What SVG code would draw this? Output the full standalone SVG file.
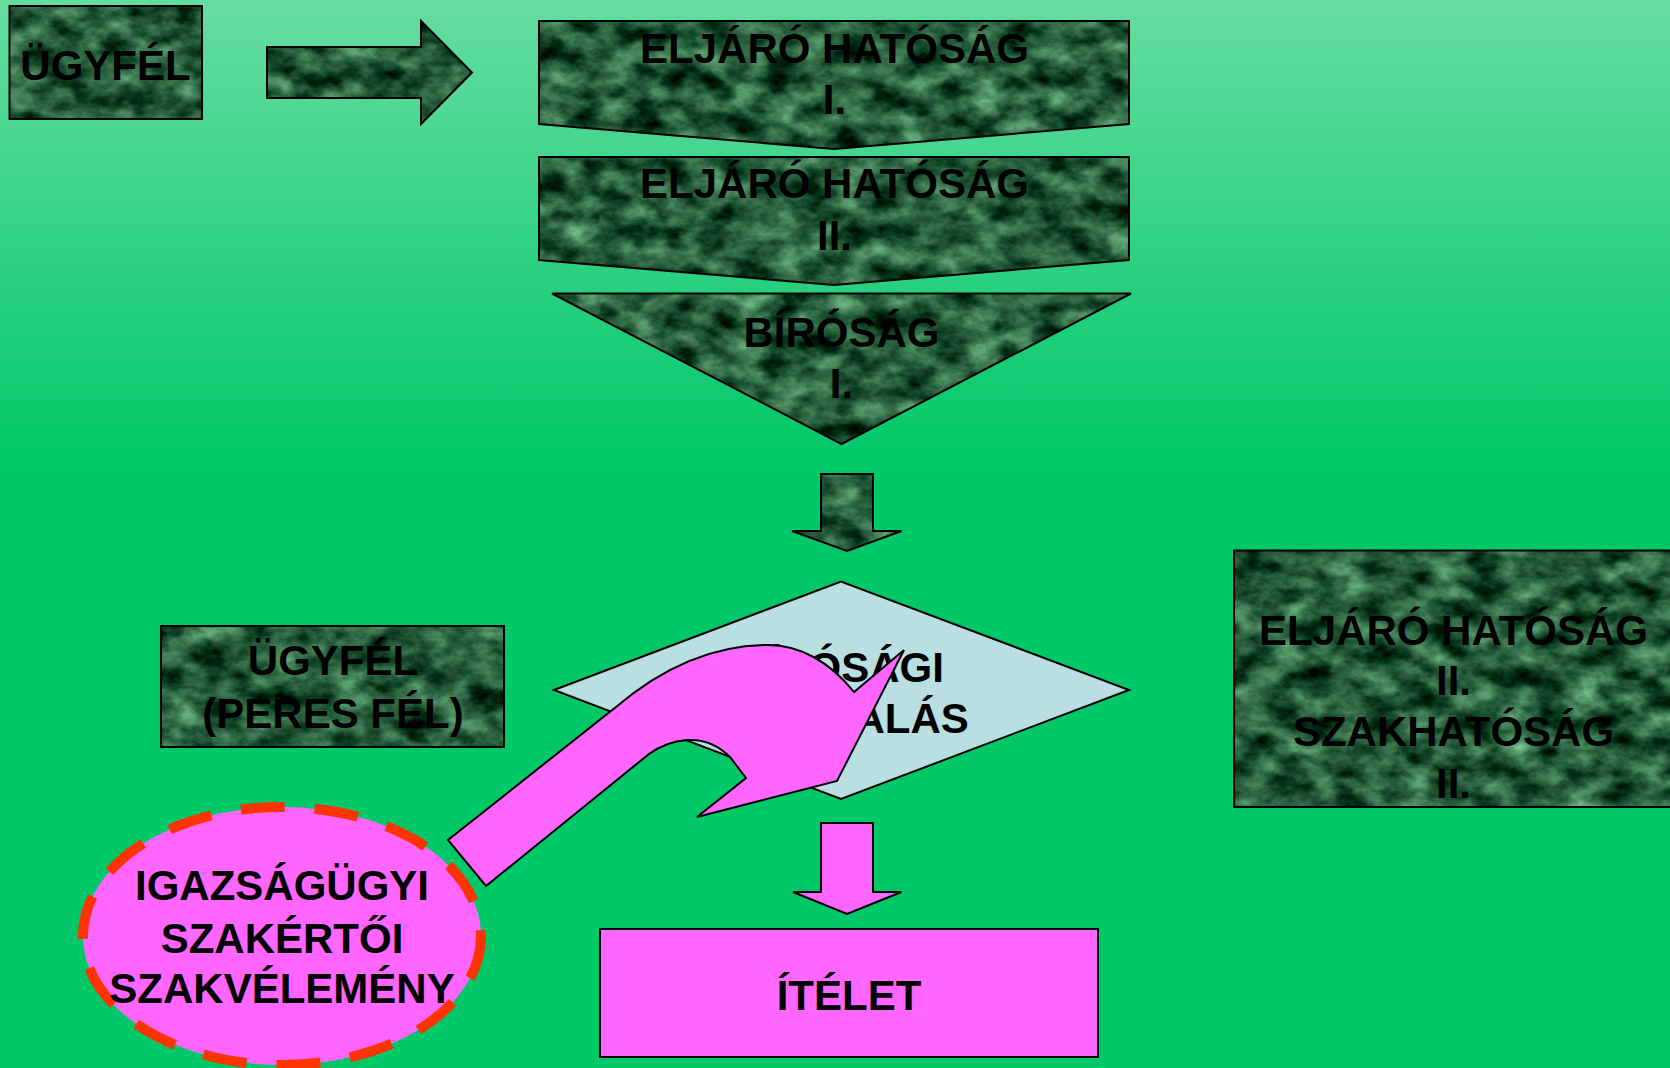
<svg xmlns="http://www.w3.org/2000/svg" width="1670" height="1068" viewBox="0 0 1670 1068">
<defs>
  <linearGradient id="bg" x1="0" y1="0" x2="0" y2="1">
    <stop offset="0" stop-color="#66dda0"/>
    <stop offset="0.44" stop-color="#00c868"/>
    <stop offset="1" stop-color="#00c868"/>
  </linearGradient>
  <filter id="marbleF" x="0" y="0" width="1" height="1" color-interpolation-filters="sRGB">
    <feTurbulence type="fractalNoise" baseFrequency="0.03 0.045" numOctaves="5" seed="7" result="n"/>
    <feColorMatrix in="n" type="matrix" values="0.75 0 0 0 -0.23  0.95 0 0 0 -0.12  0.75 0 0 0 -0.15  0 0 0 0 1"/>
  </filter>
  <pattern id="marble" patternUnits="userSpaceOnUse" x="0" y="0" width="1670" height="1068">
    <rect width="1670" height="1068" fill="#1f5a36" filter="url(#marbleF)"/>
  </pattern>
  <style>
    .mb { fill: url(#marble); stroke: #000; stroke-width: 2; }
    .pk { fill: #ff66ff; stroke: #000; stroke-width: 2; }
    .t { font-family: "Liberation Sans", Arial, sans-serif; font-weight: bold; font-size: 42px; fill: #000; text-anchor: middle; }
  </style>
</defs>
<rect width="1670" height="1068" fill="url(#bg)"/>

<g id="ugyfel-top">
  <rect class="mb" x="9.5" y="6" width="192.5" height="113"/>
  <text class="t" x="105.5" y="80">ÜGYFÉL</text>
</g>

<g id="eljaro-1">
  <polygon class="mb" points="539,21 1129,21 1129,124 834,149 539,124"/>
  <text class="t" x="834.5" y="63">ELJÁRÓ HATÓSÁG</text>
  <text class="t" x="834.5" y="114">I.</text>
</g>

<g id="eljaro-2">
  <polygon class="mb" points="539,157 1129,157 1129,260 834,285 539,260"/>
  <text class="t" x="834.5" y="198">ELJÁRÓ HATÓSÁG</text>
  <text class="t" x="834.5" y="250">II.</text>
</g>

<g id="birosag-1">
  <polygon class="mb" points="552,293.5 1131,293.5 841.5,444"/>
  <text class="t" x="841.5" y="347">BÍRÓSÁG</text>
  <text class="t" x="841.5" y="398">I.</text>
</g>

<g id="birosagi-targyalas">
  <polygon points="554,690 841,581.5 1129,690 841,799" fill="#b9dfe3" stroke="#000" stroke-width="2"/>
  <text class="t" x="840" y="682">BÍRÓSÁGI</text>
  <text class="t" x="840" y="733">TÁRGYALÁS</text>
</g>

<g id="ugyfel-peres">
  <rect class="mb" x="161" y="626" width="343" height="121"/>
  <text class="t" x="333" y="675">ÜGYFÉL</text>
  <text class="t" x="333" y="728">(PERES FÉL)</text>
</g>

<g id="eljaro-szakhatosag">
  <rect class="mb" x="1234" y="550.5" width="450" height="256.5"/>
  <text class="t" x="1453.5" y="645">ELJÁRÓ HATÓSÁG</text>
  <text class="t" x="1453.5" y="695">II.</text>
  <text class="t" x="1453.5" y="746">SZAKHATÓSÁG</text>
  <text class="t" x="1453.5" y="798">II.</text>
</g>

<g id="szakvelemeny">
  <ellipse cx="282" cy="936" rx="199" ry="129" fill="#ff66ff" stroke="#ff3300" stroke-width="10" stroke-dasharray="44 30"/>
  <text class="t" x="282" y="900">IGAZSÁGÜGYI</text>
  <text class="t" x="282" y="953">SZAKÉRTŐI</text>
  <text class="t" x="282" y="1003">SZAKVÉLEMÉNY</text>
</g>

<g id="itelet">
  <rect class="pk" x="600" y="929" width="498" height="128"/>
  <text class="t" x="849" y="1010">ÍTÉLET</text>
</g>

<g id="connectors">
  <polygon class="mb" points="267,47 421,47 421,21 472,72.5 421,124 421,98 267,98"/>
  <polygon class="mb" points="821,474 873,474 873,531 901.5,531 847,551 792,531 821,531"/>
  <polygon class="pk" points="821,823 873,823 873,892 901.5,892 847,914 793,892 821,892"/>
  <path class="pk" d="M448,840 L616,707 C662,668 712,645 768,645 C800,645 830,662 854,692 L904,650 L837,781 L697,817 L746,778 L730,757 C718,745 703,739 687,740 C673,741 660,746 649,754 L486,886 Z"/>
</g>
</svg>
